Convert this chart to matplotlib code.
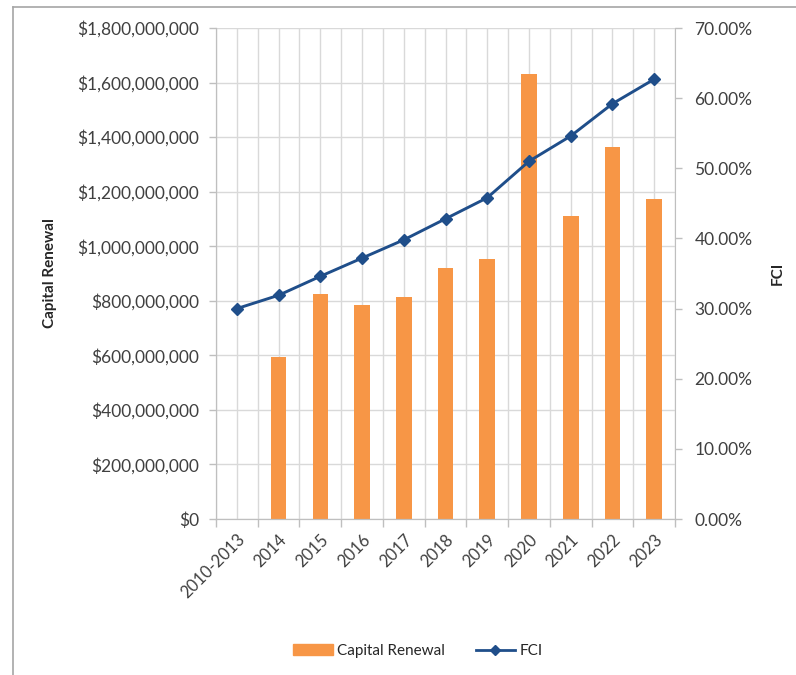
import matplotlib
matplotlib.use("Agg")
import matplotlib.pyplot as plt
from matplotlib.lines import Line2D
from matplotlib.patches import Patch
from matplotlib.ticker import FuncFormatter, MultipleLocator
import numpy as np

plt.rcParams['font.family'] = ['Lato', 'DejaVu Sans']

# capital renewal spend per period and facility condition index
years = ['2010-2013', '2014', '2015', '2016', '2017', '2018',
         '2019', '2020', '2021', '2022', '2023']
capital_renewal = [np.nan, 595e6, 825e6, 785e6, 813e6, 920e6,
                   953e6, 1632e6, 1110e6, 1364e6, 1173e6]
fci = [30.0, 31.9, 34.6, 37.2, 39.8, 42.8, 45.8, 51.0, 54.6, 59.2, 62.7]

orange = '#F79646'
blue = '#1F4E8A'
grid_c = '#D9D9D9'
spine_c = '#BFBFBF'
label_c = '#404040'

fig = plt.figure(figsize=(7.96, 6.75), dpi=100)
ax = fig.add_axes([0.2714, 0.2311, 0.5766, 0.7274])
ax2 = ax.twinx()

x = np.arange(len(years))
ax.bar(x, capital_renewal, width=0.375, color=orange, zorder=2)
ax2.plot(x, fci, color=blue, lw=2.1, marker='D', ms=6.5, zorder=3)

# axes ranges
ax.set_xlim(-0.5, len(years) - 0.5)
ax.set_ylim(0, 1.8e9)
ax2.set_ylim(0, 70)
ax.yaxis.set_major_locator(MultipleLocator(200e6))
ax2.yaxis.set_major_locator(MultipleLocator(10))
ax.yaxis.set_major_formatter(FuncFormatter(lambda v, p: '${:,.0f}'.format(v)))
ax2.yaxis.set_major_formatter(FuncFormatter(lambda v, p: '{:.2f}%'.format(v)))

# grid: horizontal at money ticks, vertical at centers and boundaries
ax.set_axisbelow(True)
ax.yaxis.grid(True, color=grid_c, lw=1)
for gx in np.arange(-0.5, len(years), 0.5):
    ax.axvline(gx, color=grid_c, lw=1, zorder=0)

ax.set_xticks(x)
ax.set_xticklabels(years, rotation=45, ha='right', rotation_mode='anchor')
ax.set_xticks(np.arange(-0.5, len(years), 1.0), minor=True)
ax.tick_params(axis='x', which='major', length=0, pad=9, labelsize=12,
               labelcolor=label_c)
ax.tick_params(axis='x', which='minor', length=6, color=spine_c, width=1)
ax.tick_params(axis='y', length=5, color=spine_c, width=1, pad=7,
               labelsize=12.5, labelcolor=label_c)
ax2.tick_params(axis='y', length=5, color=spine_c, width=1, pad=9,
                labelsize=12.5, labelcolor=label_c)

for a in (ax, ax2):
    a.spines['top'].set_visible(False)
    for side in ('left', 'right', 'bottom'):
        a.spines[side].set_color(spine_c)
ax.spines['right'].set_visible(False)

ax.set_ylabel('Capital Renewal', fontsize=11, fontweight='bold',
              color='#262626', labelpad=15)
ax2.set_ylabel('FCI', fontsize=11, fontweight='bold', color='#262626',
               labelpad=13)

handles = [Patch(color=orange, label='Capital Renewal'),
           Line2D([], [], color=blue, lw=2, marker='D', ms=5, label='FCI')]
fig.legend(handles=handles, loc='center', bbox_to_anchor=(0.525, 1 - 651 / 675),
           ncol=2, frameon=False, fontsize=11, handlelength=2.6,
           handletextpad=0.3, columnspacing=2.0, labelcolor='#262626')

# outer frame lines
fig.add_artist(Line2D([0.0163, 0.0163], [0, 0.9896], color='#A6A6A6', lw=1.2))
fig.add_artist(Line2D([0.0163, 1.0], [0.9896, 0.9896], color='#A6A6A6', lw=1.2))

fig.savefig('out.png', dpi=100)
